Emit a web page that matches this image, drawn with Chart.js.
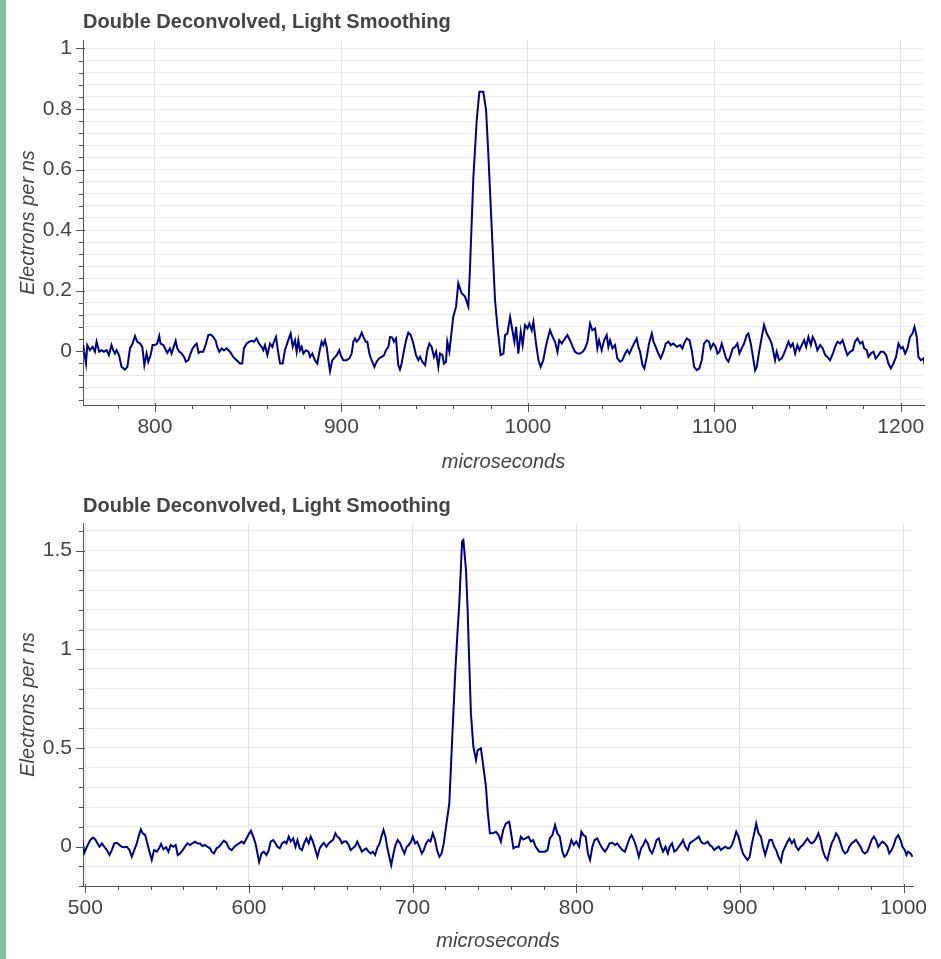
<!DOCTYPE html>
<html>
<head>
<meta charset="utf-8">
<script src="https://cdn.jsdelivr.net/npm/chart.js@4.4.1/dist/chart.umd.min.js"></script>
<style>
  html, body { margin: 0; padding: 0; background: #fff; }
  body { width: 941px; height: 959px; position: relative; overflow: hidden; }
  .strip { position: absolute; left: 0; top: 0; width: 6px; height: 959px; background: #7fc1a1; z-index: 2; }
  .panel { position: absolute; left: 0; }
</style>
</head>
<body>
<div class="strip"></div>
<canvas id="topChart" class="panel" width="941" height="480" style="top:0"></canvas>
<canvas id="bottomChart" class="panel" width="941" height="479" style="top:480px"></canvas>
<script>
const TITLE = "Double Deconvolved, Light Smoothing";
const X_LABEL = "microseconds";
const Y_LABEL = "Electrons per ns";

// first run: time (us) and signal (electrons/ns)
const topTime = [
    761.5, 763.0, 763.7, 765.1, 766.6, 767.8, 768.7, 770.1, 771.4, 772.6,
    774.1, 775.3, 776.7, 777.6, 778.5, 779.4, 780.7, 782.1, 783.9, 785.2,
    786.6, 788.0, 789.3, 790.5, 792.0, 793.2, 794.3, 795.5, 796.4, 797.7,
    798.7, 800.0, 801.2, 802.3, 803.0, 804.5, 805.9, 806.6, 808.0, 808.9,
    809.8, 811.1, 812.0, 813.1, 814.3, 815.6, 816.6, 817.9, 819.1, 820.2,
    821.5, 822.4, 823.4, 824.5, 825.9, 827.4, 828.6, 829.9, 831.3, 832.6,
    833.4, 834.5, 835.8, 837.0, 838.4, 840.2, 842.0, 843.8, 845.6, 846.8,
    847.7, 849.2, 850.6, 851.9, 853.1, 854.5, 855.8, 857.2, 858.1, 859.0,
    860.3, 861.7, 863.0, 863.8, 864.9, 866.2, 867.1, 868.5, 869.7, 870.6,
    872.1, 872.8, 873.9, 875.1, 876.0, 876.9, 877.8, 878.7, 879.6, 881.0,
    882.3, 883.2, 884.4, 885.8, 887.1, 888.2, 889.4, 890.3, 891.2, 892.1,
    893.0, 893.9, 895.1, 896.0, 897.5, 898.9, 899.6, 901.0, 902.8, 904.3,
    905.5, 906.4, 907.3, 908.2, 909.6, 910.9, 911.8, 913.0, 913.9, 915.0,
    916.2, 917.7, 918.9, 920.2, 921.6, 922.9, 923.9, 925.2, 926.1, 927.3,
    928.2, 929.3, 930.5, 931.4, 932.3, 933.6, 934.7, 935.9, 937.2, 938.6,
    940.0, 941.3, 942.2, 943.4, 944.9, 946.1, 947.2, 948.4, 949.7, 950.8,
    952.0, 952.9, 954.2, 955.0, 956.1, 956.8, 957.9, 958.8, 960.0, 961.5,
    962.7, 964.5, 966.3, 968.1, 969.0, 970.8, 972.6, 974.0, 976.1, 977.6,
    978.8, 980.6, 982.4, 983.7, 985.4, 986.9, 987.8, 989.0, 990.5, 991.7,
    992.8, 993.7, 994.9, 996.2, 997.2, 998.5, 999.8, 1000.8, 1002.1, 1003.0,
    1004.4, 1005.7, 1006.9, 1008.3, 1009.6, 1010.7, 1011.9, 1013.3, 1014.6, 1015.9,
    1016.9, 1018.2, 1020.0, 1021.2, 1022.6, 1024.1, 1025.3, 1026.6, 1028.0, 1029.4,
    1030.7, 1032.0, 1033.4, 1034.6, 1036.1, 1037.3, 1038.2, 1039.6, 1040.9, 1042.3,
    1043.2, 1044.1, 1045.4, 1046.8, 1048.0, 1049.5, 1050.7, 1052.2, 1053.4, 1054.5,
    1055.7, 1057.0, 1058.4, 1059.3, 1060.2, 1061.5, 1062.5, 1063.8, 1065.0, 1066.5,
    1067.4, 1068.6, 1070.0, 1071.3, 1072.7, 1074.0, 1075.4, 1076.7, 1078.1, 1079.9,
    1081.7, 1082.9, 1083.8, 1085.2, 1086.7, 1087.9, 1089.2, 1090.6, 1092.0, 1093.3,
    1094.5, 1096.0, 1097.2, 1098.1, 1099.5, 1100.8, 1101.7, 1102.8, 1104.0, 1105.3,
    1106.3, 1107.6, 1108.5, 1109.9, 1111.2, 1112.4, 1113.5, 1114.7, 1116.0, 1117.4,
    1118.3, 1119.6, 1120.6, 1121.9, 1122.8, 1124.2, 1125.5, 1126.7, 1128.2, 1129.6,
    1130.8, 1131.7, 1132.6, 1133.5, 1134.8, 1136.2, 1137.4, 1138.5, 1139.8, 1141.0,
    1142.1, 1143.4, 1144.6, 1145.7, 1146.9, 1148.2, 1149.3, 1150.5, 1151.8, 1152.8,
    1154.1, 1155.3, 1156.8, 1158.2, 1159.5, 1160.7, 1162.1, 1163.6, 1164.8, 1166.1,
    1167.5, 1168.8, 1170.2, 1171.4, 1172.9, 1174.3, 1175.5, 1176.8, 1178.2, 1179.5,
    1180.4, 1181.8, 1182.7, 1184.0, 1185.4, 1186.6, 1188.1, 1189.3, 1190.7, 1192.2,
    1193.4, 1194.7, 1196.1, 1197.5, 1198.8, 1200.1, 1201.1, 1202.4, 1203.6, 1205.0,
    1206.3, 1207.4, 1208.6, 1209.5, 1210.8, 1212.2, 1213.1
];
const topSignal = [
    0.020, -0.041, 0.020, 0.003, 0.014, -0.002, 0.031, -0.002, 0.003, -0.002,
    0.003, -0.013, 0.020, 0.003, -0.008, 0.003, -0.013, -0.052, -0.061, -0.052,
    0.009, 0.025, 0.050, 0.031, 0.025, 0.014, -0.046, -0.008, -0.035, -0.013,
    0.020, 0.020, 0.025, 0.050, 0.025, 0.020, 0.003, -0.006, 0.009, -0.008,
    0.009, 0.034, 0.009, -0.002, -0.008, -0.019, -0.035, -0.030, -0.008, 0.009,
    0.020, 0.025, -0.006, -0.002, -0.002, 0.025, 0.053, 0.055, 0.047, 0.034,
    0.014, -0.002, 0.009, 0.003, 0.009, -0.002, -0.019, -0.030, -0.041, -0.041,
    0.009, 0.025, 0.031, 0.034, 0.031, 0.042, 0.025, 0.014, 0.003, 0.020,
    -0.013, 0.025, 0.014, 0.031, 0.047, -0.008, -0.041, -0.041, 0.003, 0.020,
    0.047, 0.058, 0.014, 0.036, -0.002, 0.036, 0.003, 0.014, -0.008, 0.003,
    -0.002, -0.019, -0.008, -0.030, -0.041, -0.002, 0.031, 0.020, 0.036, 0.014,
    -0.030, -0.066, -0.030, -0.024, -0.013, 0.003, -0.013, -0.030, -0.030, -0.024,
    -0.008, 0.031, 0.042, 0.031, 0.042, 0.061, 0.047, 0.031, 0.031, -0.008,
    -0.030, -0.052, -0.035, -0.024, -0.019, -0.013, 0.003, 0.014, 0.047, 0.045,
    0.031, 0.042, -0.046, -0.061, -0.041, 0.003, 0.036, 0.061, 0.053, 0.025,
    -0.013, -0.030, -0.019, -0.035, -0.046, 0.003, 0.025, 0.014, -0.019, -0.002,
    -0.052, -0.008, -0.013, -0.041, -0.035, 0.031, -0.002, 0.047, 0.113, 0.147,
    0.224, 0.191, 0.180, 0.147, 0.279, 0.576, 0.764, 0.857, 0.857, 0.797,
    0.653, 0.411, 0.169, 0.080, -0.013, -0.008, 0.053, 0.058, 0.113, 0.069,
    0.031, 0.080, -0.008, 0.064, 0.020, 0.086, 0.075, 0.091, 0.069, 0.097,
    0.025, -0.030, -0.052, -0.030, 0.014, 0.042, 0.069, 0.047, 0.031, -0.002,
    0.036, 0.025, 0.042, 0.053, 0.036, 0.014, -0.002, -0.008, -0.008, -0.002,
    0.009, 0.031, 0.091, 0.069, 0.075, 0.009, 0.036, 0.003, 0.036, 0.053,
    0.014, 0.036, 0.009, 0.020, -0.024, -0.035, -0.030, -0.008, 0.003, -0.008,
    0.009, 0.025, 0.042, 0.014, -0.002, -0.046, -0.057, -0.019, 0.025, 0.058,
    0.031, 0.014, -0.008, -0.024, -0.002, 0.025, 0.031, 0.020, 0.025, 0.014,
    0.020, 0.009, 0.025, 0.042, 0.036, 0.003, -0.052, -0.063, -0.057, -0.030,
    0.025, 0.036, 0.031, 0.009, 0.025, 0.014, -0.008, -0.002, 0.025, -0.002,
    -0.024, -0.035, -0.019, 0.009, 0.014, 0.025, -0.008, 0.009, 0.025, 0.053,
    0.058, 0.025, -0.013, -0.063, -0.052, 0.003, 0.047, 0.086, 0.058, 0.042,
    0.025, -0.002, -0.030, -0.002, -0.030, -0.024, -0.008, 0.009, 0.031, 0.014,
    0.025, -0.008, 0.020, 0.003, 0.020, 0.036, 0.014, 0.047, 0.020, 0.047,
    0.031, 0.003, 0.020, 0.009, -0.013, -0.019, -0.030, -0.008, 0.014, 0.031,
    0.025, 0.036, 0.009, -0.013, -0.002, 0.003, 0.031, 0.042, 0.025, 0.031,
    0.009, 0.003, -0.019, -0.008, -0.002, -0.024, -0.013, -0.002, -0.002, -0.013,
    -0.041, -0.057, -0.041, -0.019, 0.025, 0.009, 0.014, -0.008, 0.009, 0.047,
    0.058, 0.080, 0.047, -0.019, -0.030, -0.024, -0.052
];
const topXTicks = [800, 900, 1000, 1100, 1200];
const topYTicks = [0, 0.2, 0.4, 0.6, 0.8, 1];

// second run
const bottomTime = [
    498.0, 499.4, 501.0, 503.0, 504.7, 506.1, 507.5, 508.7, 510.2, 511.6,
    513.2, 514.8, 516.2, 517.7, 519.3, 520.9, 522.3, 523.8, 525.4, 527.0,
    528.4, 529.9, 531.5, 532.5, 533.9, 535.1, 536.6, 537.6, 539.2, 540.6,
    542.0, 543.7, 545.1, 546.3, 547.7, 549.4, 550.8, 552.2, 553.8, 555.2,
    556.5, 557.9, 559.5, 560.9, 562.4, 564.0, 565.4, 567.0, 568.5, 570.1,
    571.5, 573.1, 574.5, 576.2, 577.2, 578.6, 580.2, 581.7, 583.3, 584.7,
    586.3, 587.8, 589.4, 590.8, 592.4, 594.0, 595.5, 596.9, 598.5, 599.9,
    601.2, 602.6, 604.0, 605.2, 606.2, 607.7, 609.1, 610.7, 612.1, 613.3,
    614.8, 616.2, 617.4, 618.8, 620.2, 621.7, 622.9, 624.3, 625.5, 627.0,
    628.4, 629.6, 631.0, 632.4, 633.7, 635.1, 636.5, 637.7, 639.1, 640.6,
    641.8, 643.2, 644.6, 645.8, 647.3, 648.7, 649.9, 651.3, 652.8, 654.0,
    655.4, 656.8, 658.0, 659.5, 660.9, 662.1, 663.5, 665.0, 666.2, 667.6,
    669.0, 670.2, 671.6, 673.1, 674.3, 675.7, 677.1, 678.3, 679.8, 681.2,
    682.2, 683.4, 684.4, 685.5, 686.9, 688.3, 689.5, 690.9, 692.4, 693.6,
    695.0, 696.4, 697.6, 699.1, 700.1, 701.5, 702.7, 704.1, 705.6, 706.8,
    708.2, 709.6, 710.9, 712.3, 713.7, 714.9, 716.3, 717.7, 719.0, 720.4,
    722.4, 724.5, 726.1, 727.5, 728.5, 730.2, 731.0, 732.6, 733.6, 734.6,
    735.6, 737.1, 738.7, 739.7, 741.7, 743.2, 744.8, 745.8, 747.2, 748.8,
    750.9, 752.5, 753.9, 755.3, 757.0, 759.0, 760.0, 761.6, 763.1, 764.7,
    766.1, 767.5, 769.1, 770.8, 772.2, 773.6, 775.2, 777.3, 779.3, 780.9,
    782.4, 783.8, 785.4, 787.0, 788.4, 789.9, 791.5, 792.7, 793.9, 795.6,
    797.0, 798.4, 800.0, 801.7, 803.1, 804.3, 805.7, 807.1, 808.4, 809.8,
    811.2, 812.8, 814.2, 815.9, 817.5, 818.9, 820.3, 822.0, 823.6, 825.0,
    826.4, 828.1, 829.7, 831.1, 832.5, 833.7, 835.2, 836.6, 838.2, 839.6,
    840.9, 842.3, 843.7, 844.9, 846.3, 847.8, 849.0, 850.4, 851.8, 853.0,
    854.5, 855.9, 857.1, 858.5, 859.9, 861.2, 862.6, 864.0, 865.2, 866.6,
    868.1, 869.3, 870.7, 872.1, 873.4, 874.8, 876.2, 877.4, 878.8, 880.3,
    881.5, 882.9, 884.3, 885.5, 887.0, 888.4, 889.6, 891.0, 892.4, 893.7,
    895.1, 896.5, 897.7, 899.1, 900.6, 901.8, 903.2, 904.6, 905.9, 907.3,
    908.7, 909.9, 911.3, 912.8, 914.0, 915.4, 916.8, 918.0, 919.5, 920.9,
    922.1, 923.5, 925.0, 926.2, 927.6, 929.0, 930.2, 931.7, 933.1, 934.3,
    935.7, 937.1, 938.4, 939.8, 941.2, 942.4, 943.8, 945.3, 946.5, 947.9,
    949.3, 950.5, 952.0, 953.4, 954.6, 956.0, 957.5, 958.7, 960.1, 961.5,
    962.7, 964.2, 965.6, 966.8, 968.2, 969.6, 970.9, 972.3, 973.7, 974.9,
    976.3, 977.8, 979.0, 980.4, 981.8, 983.1, 984.5, 985.9, 987.1, 988.5,
    990.0, 991.2, 992.6, 994.0, 995.2, 996.7, 998.1, 999.3, 1000.7, 1001.7,
    1002.7, 1004.2, 1005.4
];
const bottomSignal = [
    0.041, -0.031, -0.001, 0.033, 0.046, 0.036, 0.016, -0.001, 0.016, -0.001,
    -0.018, -0.043, -0.018, 0.016, 0.019, 0.008, -0.001, -0.004, -0.001, -0.018,
    -0.052, -0.018, 0.016, 0.050, 0.087, 0.067, 0.058, 0.025, -0.026, -0.068,
    -0.018, -0.026, -0.009, 0.013, -0.014, -0.004, -0.026, 0.008, -0.001, 0.008,
    -0.043, -0.035, -0.018, -0.001, 0.016, 0.008, 0.016, 0.025, 0.016, 0.016,
    0.003, 0.008, -0.001, -0.009, -0.026, -0.035, -0.009, -0.001, 0.016, 0.030,
    0.019, -0.009, -0.018, -0.004, 0.008, 0.016, 0.025, 0.016, 0.041, 0.063,
    0.080, 0.050, 0.016, -0.035, -0.077, -0.035, -0.026, -0.043, -0.018, 0.025,
    0.033, 0.016, -0.001, -0.009, 0.016, 0.025, 0.016, 0.050, 0.025, 0.041,
    -0.001, 0.033, -0.009, -0.018, 0.016, 0.041, 0.016, 0.050, 0.025, -0.018,
    -0.052, -0.009, 0.008, 0.019, -0.001, 0.016, 0.025, 0.033, 0.067, 0.050,
    0.041, 0.016, 0.025, 0.025, 0.008, -0.018, -0.009, 0.003, 0.025, -0.001,
    -0.026, -0.018, -0.009, -0.026, -0.035, -0.026, -0.043, -0.009, 0.016, 0.058,
    0.084, 0.050, -0.001, -0.043, -0.094, -0.035, 0.008, 0.033, 0.016, -0.009,
    -0.035, -0.001, 0.008, 0.025, 0.050, 0.016, 0.025, -0.001, -0.035, -0.018,
    0.016, 0.033, 0.025, 0.067, 0.033, -0.018, -0.052, -0.035, 0.016, 0.101,
    0.219, 0.608, 0.895, 1.098, 1.233, 1.546, 1.554, 1.402, 1.199, 0.929,
    0.675, 0.506, 0.439, 0.489, 0.498, 0.405, 0.303, 0.185, 0.067, 0.067,
    0.075, 0.058, 0.025, 0.084, 0.117, 0.126, 0.075, -0.009, -0.001, -0.001,
    0.050, 0.036, 0.041, 0.050, 0.025, 0.033, -0.001, -0.026, -0.026, -0.026,
    -0.018, 0.041, 0.058, 0.109, 0.067, 0.050, -0.026, -0.052, -0.043, -0.009,
    0.033, 0.008, 0.025, -0.001, 0.075, 0.058, 0.050, -0.035, -0.068, -0.001,
    0.033, 0.041, 0.016, -0.009, -0.026, -0.009, 0.016, 0.019, 0.008, 0.016,
    -0.001, -0.018, -0.026, 0.008, 0.041, 0.058, 0.033, -0.001, -0.052, -0.009,
    0.008, 0.033, 0.016, -0.018, -0.035, -0.001, 0.033, 0.041, -0.001, -0.026,
    -0.001, -0.035, -0.001, 0.016, -0.026, -0.018, -0.001, 0.016, 0.033, -0.001,
    -0.018, 0.016, 0.025, 0.033, 0.041, 0.050, 0.025, 0.016, 0.016, 0.025,
    0.008, -0.001, -0.018, -0.009, -0.001, -0.018, -0.009, -0.001, -0.009, -0.009,
    0.008, 0.041, 0.075, 0.050, -0.001, -0.035, -0.052, -0.068, -0.052, 0.016,
    0.067, 0.117, 0.067, 0.050, -0.001, -0.043, -0.001, 0.033, 0.033, -0.001,
    -0.018, -0.052, -0.077, -0.026, -0.001, 0.025, 0.041, 0.016, 0.033, -0.001,
    -0.018, -0.001, 0.008, 0.025, 0.041, 0.025, 0.016, 0.025, 0.041, 0.067,
    0.033, -0.018, -0.052, -0.068, -0.026, 0.016, 0.041, 0.067, 0.050, 0.016,
    -0.018, -0.035, -0.026, -0.001, 0.016, 0.025, 0.033, 0.016, -0.001, -0.026,
    -0.035, -0.026, -0.001, 0.033, 0.050, 0.033, -0.001, 0.016, 0.025, 0.016,
    -0.001, -0.035, -0.018, 0.008, 0.041, 0.058, 0.033, -0.001, -0.018, -0.043,
    -0.026, -0.035, -0.052
];
const bottomXTicks = [500, 600, 700, 800, 900, 1000];
const bottomYTicks = [0, 0.5, 1, 1.5];

const FONT = '"Liberation Sans", Arial, Helvetica, sans-serif';
const TEXT = "#444444";
const AXIS = "#555555";
const LINE = "#000080";

function isMajor(v, majors) {
    return majors.some(m => Math.abs(m - v) < 1e-6);
}

// unlabelled ticks every `step`, labelled ones fall on the same grid
function tickGrid(step, lo, hi) {
    const out = [];
    for (let i = Math.ceil(lo / step - 1e-9); i * step <= hi + 1e-9; i++) {
        out.push(+(i * step).toFixed(6));
    }
    return out;
}

// short tick marks on the axis lines, longer for labelled ticks
const tickMarks = {
    id: "tickMarks",
    afterDraw(chart) {
        const { ctx } = chart;
        const { x, y } = chart.scales;
        ctx.save();
        ctx.strokeStyle = AXIS;
        ctx.lineWidth = 1;
        ctx.beginPath();
        for (const t of x.ticks) {
            const px = Math.round(x.getPixelForValue(t.value)) + 0.5;
            const major = t.label !== "";
            ctx.moveTo(px, x.top - (major ? 2 : 0));
            ctx.lineTo(px, x.top + (major ? 7 : 4));
        }
        for (const t of y.ticks) {
            const py = Math.round(y.getPixelForValue(t.value)) + 0.5;
            const major = t.label !== "";
            ctx.moveTo(y.right + (major ? 2 : 0), py);
            ctx.lineTo(y.right - (major ? 7 : 4), py);
        }
        ctx.stroke();
        ctx.restore();
    }
};

// title sits over the left edge of the plot area
const plotTitle = {
    id: "plotTitle",
    afterDraw(chart, args, opts) {
        const { ctx } = chart;
        ctx.save();
        ctx.font = "bold 20px " + FONT;
        ctx.fillStyle = TEXT;
        ctx.textBaseline = "middle";
        ctx.textAlign = "left";
        ctx.fillText(opts.text, chart.chartArea.left, opts.y);
        ctx.restore();
    }
};

function makeChart(id, cfg) {
    const xGrid = tickGrid(cfg.xStep, cfg.xMin, cfg.xMax);
    const yGrid = tickGrid(cfg.yStep, cfg.yMin, cfg.yMax);
    const points = cfg.time.map((t, i) => ({ x: t, y: cfg.signal[i] }));

    return new Chart(document.getElementById(id), {
        type: "line",
        data: {
            datasets: [{
                data: points,
                borderColor: LINE,
                borderWidth: 2,
                pointRadius: 0,
                tension: 0,
                fill: false
            }]
        },
        options: {
            responsive: false,
            animation: false,
            devicePixelRatio: 1,
            layout: { padding: { top: cfg.padTop, right: cfg.padRight, left: 0, bottom: 0 } },
            plugins: {
                legend: { display: false },
                tooltip: { enabled: false },
                plotTitle: { text: TITLE, y: cfg.titleY }
            },
            scales: {
                x: {
                    type: "linear",
                    min: cfg.xMin,
                    max: cfg.xMax,
                    afterBuildTicks: axis => { axis.ticks = xGrid.map(v => ({ value: v })); },
                    afterFit: axis => { axis.height = cfg.xAxisHeight; },
                    ticks: {
                        autoSkip: false,
                        maxRotation: 0,
                        minRotation: 0,
                        padding: 10,
                        color: TEXT,
                        font: { family: FONT, size: 21 },
                        callback: v => isMajor(v, cfg.xTicks) ? String(Math.round(v)) : ""
                    },
                    grid: {
                        drawTicks: false,
                        lineWidth: 1,
                        color: c => isMajor(c.tick.value, cfg.xTicks) ? "#e2e2ea" : "rgba(0,0,0,0)"
                    },
                    border: { display: true, color: AXIS, width: 1 },
                    title: {
                        display: true,
                        text: X_LABEL,
                        color: TEXT,
                        font: { family: FONT, size: 20, style: "italic" },
                        padding: { top: 0, bottom: 6 }
                    }
                },
                y: {
                    type: "linear",
                    min: cfg.yMin,
                    max: cfg.yMax,
                    afterBuildTicks: axis => { axis.ticks = yGrid.map(v => ({ value: v })); },
                    afterFit: axis => { axis.width = 83; },
                    ticks: {
                        autoSkip: false,
                        padding: 11,
                        color: TEXT,
                        font: { family: FONT, size: 21 },
                        callback: v => isMajor(v, cfg.yTicks) ? String(+v.toFixed(2)) : ""
                    },
                    grid: { drawTicks: false, lineWidth: 1, color: "#e9e9f4" },
                    border: { display: true, color: AXIS, width: 1 },
                    title: {
                        display: true,
                        text: Y_LABEL,
                        color: TEXT,
                        font: { family: FONT, size: 20, style: "italic" },
                        padding: { top: 16, bottom: 0 }
                    }
                }
            }
        },
        plugins: [tickMarks, plotTitle]
    });
}

makeChart("topChart", {
    time: topTime, signal: topSignal,
    xTicks: topXTicks, yTicks: topYTicks,
    xMin: 761.4, xMax: 1212.5, xStep: 20,
    yMin: -0.178, yMax: 1.028, yStep: 0.04,
    padTop: 40, padRight: 17, xAxisHeight: 75, titleY: 22
});

makeChart("bottomChart", {
    time: bottomTime, signal: bottomSignal,
    xTicks: bottomXTicks, yTicks: bottomYTicks,
    xMin: 498.6, xMax: 1005.7, xStep: 20,
    yMin: -0.2, yMax: 1.64, yStep: 0.1,
    padTop: 43, padRight: 28, xAxisHeight: 73, titleY: 26
});
</script>
</body>
</html>
